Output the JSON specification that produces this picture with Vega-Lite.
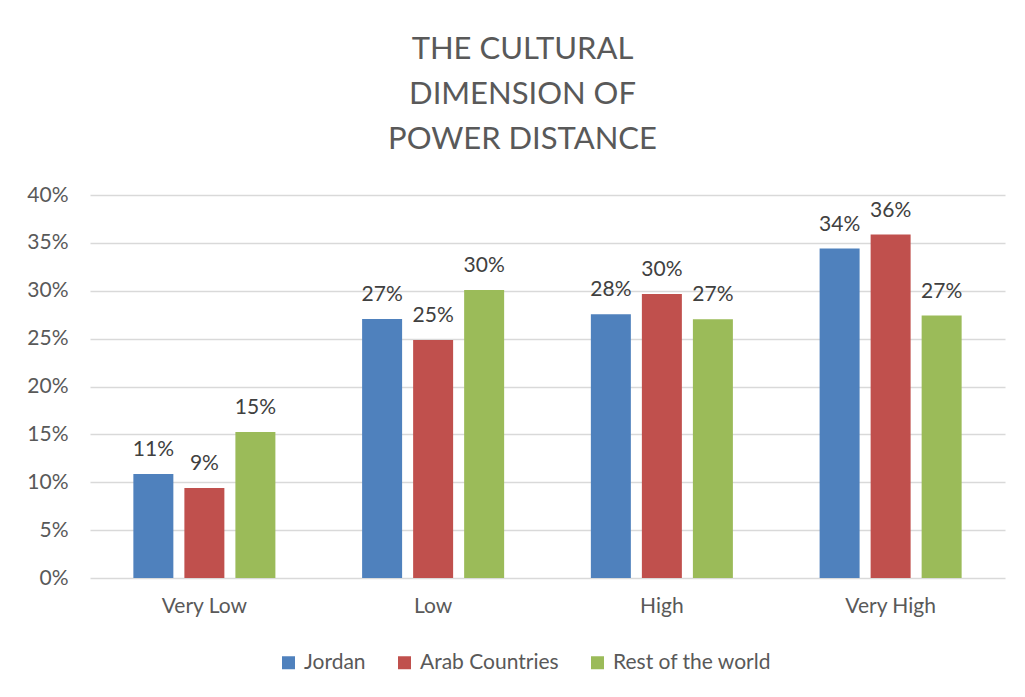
{
  "$schema": "https://vega.github.io/schema/vega-lite/v6.json",
  "width": 915,
  "height": 383,
  "autosize": {"type": "none"},
  "padding": {"left": 90, "top": 195, "right": 20, "bottom": 119},
  "background": "white",
  "title": {
    "text": ["THE CULTURAL", "DIMENSION OF", "POWER DISTANCE"],
    "font": "Lato",
    "fontSize": 31,
    "fontWeight": "normal",
    "color": "#595959",
    "lineHeight": 45,
    "anchor": "middle",
    "frame": "group",
    "dx": -25,
    "offset": 28
  },
  "data": {
    "values": [
      {"category": "Very Low", "series": "Jordan", "value": 0.1086},
      {"category": "Very Low", "series": "Arab Countries", "value": 0.094},
      {"category": "Very Low", "series": "Rest of the world", "value": 0.1525},
      {"category": "Low", "series": "Jordan", "value": 0.2705},
      {"category": "Low", "series": "Arab Countries", "value": 0.2486},
      {"category": "Low", "series": "Rest of the world", "value": 0.3008},
      {"category": "High", "series": "Jordan", "value": 0.2755},
      {"category": "High", "series": "Arab Countries", "value": 0.2966},
      {"category": "High", "series": "Rest of the world", "value": 0.2703},
      {"category": "Very High", "series": "Jordan", "value": 0.3441},
      {"category": "Very High", "series": "Arab Countries", "value": 0.3587},
      {"category": "Very High", "series": "Rest of the world", "value": 0.2741}
    ]
  },
  "encoding": {
    "x": {
      "field": "category",
      "type": "nominal",
      "sort": ["Very Low", "Low", "High", "Very High"],
      "scale": {"paddingInner": 0, "paddingOuter": 0},
      "axis": {
        "title": null,
        "labelAngle": 0,
        "labelFont": "Lato",
        "labelFontSize": 21,
        "labelColor": "#595959",
        "labelPadding": 17,
        "ticks": false,
        "domain": false
      }
    },
    "xOffset": {
      "field": "series",
      "type": "nominal",
      "sort": ["Jordan", "Arab Countries", "Rest of the world"],
      "scale": {"paddingInner": 0.216, "paddingOuter": 0.85}
    },
    "y": {
      "field": "value",
      "type": "quantitative",
      "scale": {"domain": [0, 0.4], "nice": false},
      "axis": {
        "title": null,
        "format": ".0%",
        "values": [0, 0.05, 0.1, 0.15, 0.2, 0.25, 0.3, 0.35, 0.4],
        "labelFont": "Lato",
        "labelFontSize": 21,
        "labelColor": "#595959",
        "labelPadding": 22,
        "ticks": false,
        "domain": false,
        "grid": true,
        "gridColor": "#D9D9D9",
        "gridWidth": 1.5
      }
    }
  },
  "layer": [
    {
      "mark": {"type": "bar"},
      "encoding": {
        "color": {
          "field": "series",
          "type": "nominal",
          "scale": {
            "domain": ["Jordan", "Arab Countries", "Rest of the world"],
            "range": ["#4F81BD", "#C0504D", "#9BBB59"]
          },
          "legend": {
            "title": null,
            "orient": "none",
            "legendX": 188,
            "legendY": 457,
            "direction": "horizontal",
            "symbolType": "square",
            "symbolSize": 169,
            "symbolStrokeWidth": 0,
            "labelFont": "Lato",
            "labelFontSize": 21,
            "labelColor": "#595959",
            "labelOffset": 5,
            "columnPadding": 28
          }
        }
      }
    },
    {
      "mark": {
        "type": "text",
        "baseline": "alphabetic",
        "dy": -18,
        "font": "Lato",
        "fontSize": 21,
        "color": "#404040"
      },
      "encoding": {
        "text": {"field": "value", "type": "quantitative", "format": ".0%"}
      }
    }
  ],
  "config": {
    "view": {"stroke": null}
  }
}
